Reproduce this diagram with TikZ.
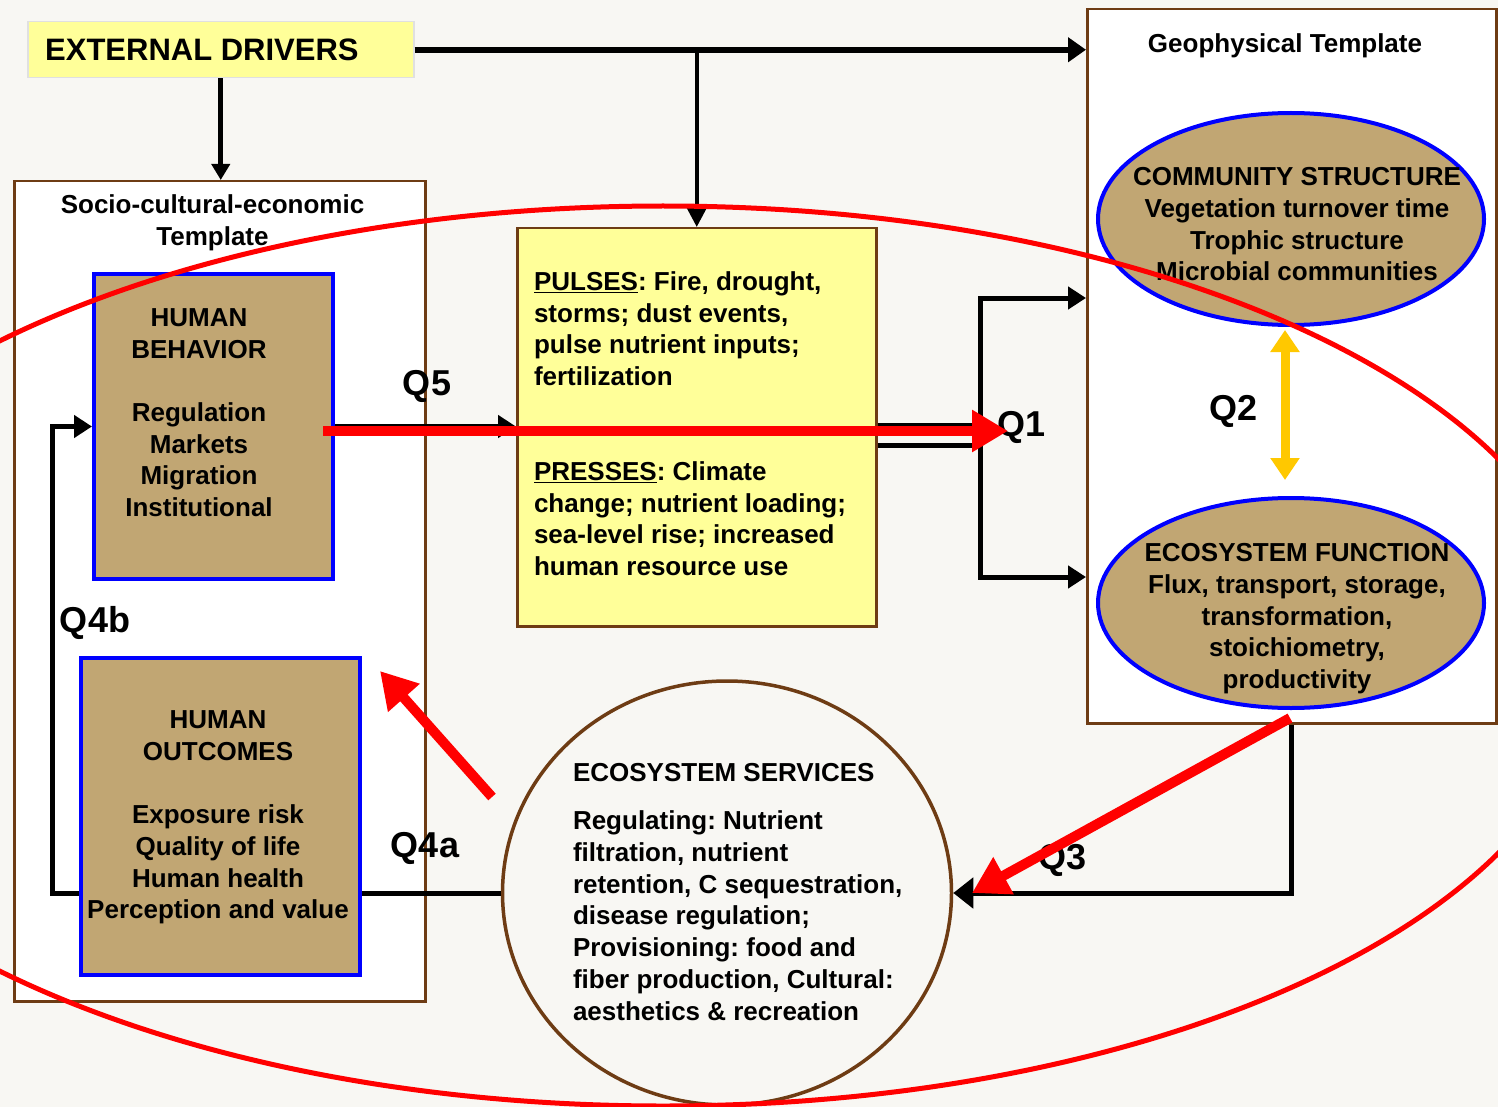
\documentclass[tikz,border=0pt]{standalone}
\usepackage{fontspec}
\setmainfont{Liberation Sans}
\usetikzlibrary{arrows.meta,shapes.geometric}
\definecolor{bgc}{HTML}{F8F7F3}
\definecolor{tanc}{HTML}{C1A673}
\definecolor{brn}{HTML}{6E3C14}
\definecolor{lyel}{HTML}{FFFF99}
\definecolor{goldc}{HTML}{FFC800}
\definecolor{bblue}{HTML}{0000FF}
\frenchspacing
\begin{document}
\begin{tikzpicture}[x=1pt,y=-1pt,
  lbl/.style={font=\bfseries\fontsize{26}{31.7}\selectfont, inner sep=0pt, outer sep=0pt},
  qlbl/.style={font=\bfseries\fontsize{36}{40}\selectfont, inner sep=0pt},
  tframe/.style={draw=brn, line width=2.5pt, fill=white, inner sep=0pt, anchor=north west},
  tanbox/.style={draw=bblue, line width=4pt, fill=tanc, inner sep=0pt, anchor=north west},
  tanell/.style={ellipse, draw=bblue, line width=4pt, fill=tanc, inner sep=0pt},
  conn/.style={draw=black, line width=5pt},
  blktip/.style={-{Triangle[length=18pt,width=22pt]}},
  redarr/.style={draw=red, line width=10pt, -{Triangle[length=36pt,width=40pt]}},
]
\fill[bgc] (0,0) rectangle (1498,1107);
\useasboundingbox (0,0) rectangle (1498,1107);
\clip (0,0) rectangle (1498,1107);

% external drivers
\node[draw=black!12, line width=1.5pt, fill=lyel, minimum width=386pt, minimum height=56pt, anchor=north west, inner sep=0pt] (ext) at (27,21) {};
\node[font=\bfseries\fontsize{31}{36}\selectfont, anchor=west, inner sep=0pt] (extT) at (45,49.5) {EXTERNAL DRIVERS};

% templates
\node[tframe, minimum width=411pt, minimum height=820pt] (socio) at (13,180) {};
\node[lbl, align=center, anchor=north] (socioT) at (212.5,194.5) {Socio-cultural-economic\\Template};
\node[tframe, minimum width=409pt, minimum height=714pt] (geo) at (1086,8) {};
\node[lbl, anchor=north] (geoT) at (1285,33.7) {Geophysical Template};

% human boxes
\node[tanbox, minimum width=239pt, minimum height=305pt] (hb) at (92,272) {};
\node[lbl, align=center, anchor=north] (hbT) at (199,308.5) {HUMAN\\BEHAVIOR\\[31.7pt]Regulation\\Markets\\Migration\\Institutional};
\node[tanbox, minimum width=279pt, minimum height=317pt] (ho) at (79,656) {};
\node[lbl, align=center, anchor=north] (hoT) at (218,710.7) {HUMAN\\OUTCOMES\\[31.7pt]Exposure risk\\Quality of life\\Human health\\Perception and value};

% pulses/presses
\node[draw=brn, line width=2.5pt, fill=lyel, inner sep=0pt, anchor=north west, minimum width=359pt, minimum height=398pt] (pulses) at (516,227) {};
\node[lbl, align=left, anchor=north west] (pulsesT) at (534,271.5) {\underline{PULSES}: Fire, drought,\\storms; dust events,\\pulse nutrient inputs;\\fertilization\\[63.4pt]\underline{PRESSES}: Climate\\change; nutrient loading;\\sea-level rise; increased\\human resource use};

% ellipses
\node[tanell, minimum width=386pt, minimum height=212pt] (cs) at (1291,219) {};
\node[lbl, align=center, anchor=north] (csT) at (1297,167.7) {COMMUNITY STRUCTURE\\Vegetation turnover time\\Trophic structure\\Microbial communities};
\node[tanell, minimum width=386pt, minimum height=210pt] (ef) at (1291,603) {};
\node[lbl, align=center, anchor=north] (efT) at (1297,543.7) {ECOSYSTEM FUNCTION\\Flux, transport, storage,\\transformation,\\stoichiometry,\\productivity};

% ecosystem services
\node[ellipse, draw=brn, line width=3.5pt, fill=bgc, minimum width=449pt, minimum height=424pt, inner sep=0pt] (es) at (727,893) {};
\node[lbl, align=left, anchor=north west] (esT) at (573,763.7) {ECOSYSTEM SERVICES\\[16.3pt]Regulating: Nutrient\\filtration, nutrient\\retention, C sequestration,\\disease regulation;\\Provisioning: food and\\fiber production, Cultural:\\aesthetics \& recreation};

% black connectors
\draw[conn, line width=6pt, -{Triangle[length=18pt,width=24pt]}] (ext.east) -- (ext.east -| geo.west);
\draw[conn, line width=4pt, -{Triangle[length=20pt,width=20pt]}] (ext.east -| pulses.north) -- (pulses.north);
\draw[conn, -{Triangle[length=16pt,width=18pt]}] (ext.south) -- (ext.south |- socio.north);
\draw[conn, line width=4.5pt, blktip] (hb.east) -- (hb.east -| pulses.west);
\coordinate (q1top) at (980,298);
\coordinate (q1bot) at (980,577);
\draw[conn] ([yshift=2pt]pulses.east) -- ([yshift=2pt]pulses.east -| q1top);
\draw[conn] ([yshift=-18pt]pulses.east) -- ([yshift=-18pt]pulses.east -| q1top);
\draw[conn, blktip] (q1bot) -- (q1top) -- (q1top -| geo.west);
\draw[conn, blktip] (q1top) -- (q1bot) -- (q1bot -| geo.west);
\draw[conn, -{Triangle[length=20pt,width=30pt]}] (ef.south |- geo.south) -- (ef.south |- es.east) -- (es.east);
\draw[conn] (es.west) -- (es.west -| ho.east);
\coordinate (lp) at (52,0);
\draw[conn, blktip] (ho.west |- es.west) -- (lp |- es.west) -- (lp |- hb.west) -- (hb.west);
\draw[draw=goldc, line width=9pt, {Triangle[length=22pt,width=28pt]}-{Triangle[length=22pt,width=28pt]}, shorten <=3pt, shorten >=16pt] ([xshift=-6pt]cs.south) -- ([xshift=-6pt]ef.north);

% Q labels
\node[qlbl] (q5) at (427,386) {Q5};
\node[qlbl] (q1) at (1021,427) {Q1};
\node[qlbl] (q2) at (1233,411) {Q2};
\node[qlbl] (q3) at (1062,860) {Q3};
\node[qlbl] (q4a) at (425,848) {Q4a};
\node[qlbl] (q4b) at (95,623) {Q4b};

% red overlay
\draw[red, line width=5pt] (663,656) ellipse [x radius=929pt, y radius=450pt];
\coordinate (rq1s) at (323,431);
\coordinate (rq1e) at (1008,431);
\coordinate (rq3s) at (1290,718);
\coordinate (rq3e) at (972,893);
\coordinate (rq4s) at (492,797);
\coordinate (rq4e) at (380,671);
\draw[redarr] (rq1s) -- (rq1e);
\draw[redarr] (rq3s) -- (rq3e);
\draw[redarr] (rq4s) -- (rq4e);
\end{tikzpicture}
\end{document}
